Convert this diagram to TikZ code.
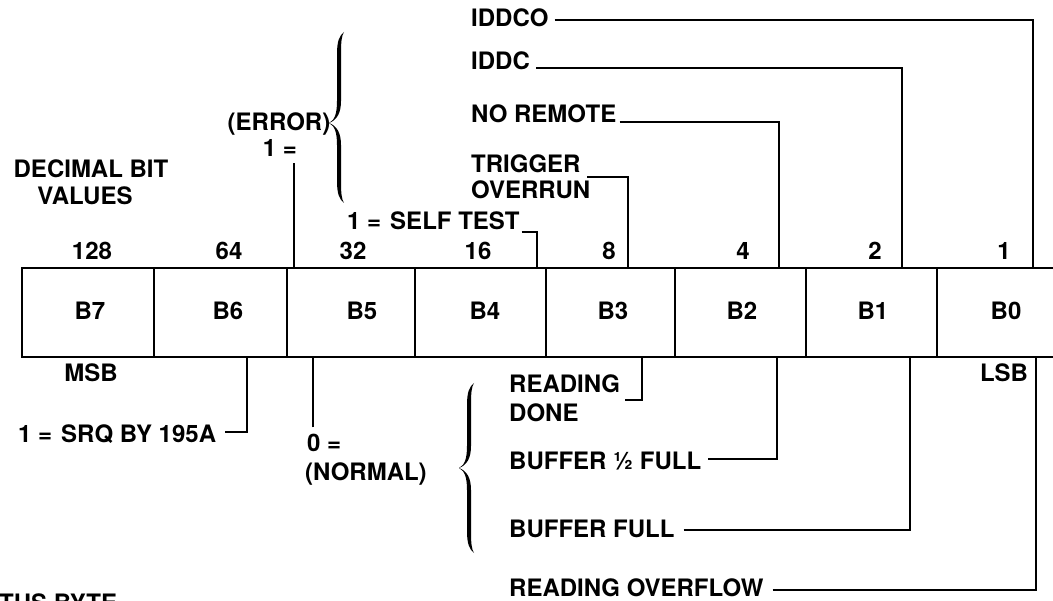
\documentclass[tikz,border=0pt]{standalone}
\usepackage{fontspec}
\setmainfont{TeX Gyre Heros}
\newcommand\lblfont{\fontsize{24}{27}\selectfont\bfseries}
\begin{document}
\begin{tikzpicture}[x=1pt,y=-1pt,
  lbl/.style={inner sep=0pt,font=\lblfont},
  boxline/.style={line width=2.6pt},
  conn/.style={line width=2.3pt},
  bracefill/.style={fill=black}]
\path[use as bounding box] (0,0) rectangle (1053,601);
\clip (0,0) rectangle (1053,601);

% ---- the byte box
\draw[boxline] (22,268) rectangle (1070,357);
\foreach \x in {154,287,415,546,675,806,937} \draw[boxline] (\x,268) -- (\x,357);

% attachment points on the box
\coordinate (t0) at (1033,268);
\coordinate (t1) at (902,268);
\coordinate (t2) at (779,268);
\coordinate (t3) at (628,268);
\coordinate (t4) at (537,268);
\coordinate (t5) at (294,268);
\coordinate (u0) at (1036,357);
\coordinate (u1) at (910,357);
\coordinate (u2) at (777,357);
\coordinate (u3) at (642,357);
\coordinate (u5) at (313,357);
\coordinate (u6) at (247,357);

% ---- bit labels
\node[lbl,anchor=base] (b7) at (90,320) {B7};
\node[lbl,anchor=base] (b6) at (228,320) {B6};
\node[lbl,anchor=base] (b5) at (362,320) {B5};
\node[lbl,anchor=base] (b4) at (485,320) {B4};
\node[lbl,anchor=base] (b3) at (613,320) {B3};
\node[lbl,anchor=base] (b2) at (742,320) {B2};
\node[lbl,anchor=base] (b1) at (873,320) {B1};
\node[lbl,anchor=base] (b0) at (1006,320) {B0};

% ---- decimal values
\node[lbl,anchor=base] (v7) at (92,260) {128};
\node[lbl,anchor=base] (v6) at (229,260) {64};
\node[lbl,anchor=base] (v5) at (353,260) {32};
\node[lbl,anchor=base] (v4) at (478,260) {16};
\node[lbl,anchor=base] (v3) at (609,260) {8};
\node[lbl,anchor=base] (v2) at (743,260) {4};
\node[lbl,anchor=base] (v1) at (875,260) {2};
\node[lbl,anchor=base] (v0) at (1004,260) {1};

\node[lbl,anchor=base] (dec1) at (91,178) {DECIMAL BIT};
\node[lbl,anchor=base] (dec2) at (85,205) {VALUES};
\node[lbl,anchor=base] (msb) at (91,382) {MSB};
\node[lbl,anchor=base] (lsb) at (1004,382) {LSB};

% ---- upper labels
\node[lbl,anchor=base west] (iddco) at (471,27) {IDDCO};
\node[lbl,anchor=base west] (iddc) at (471,70) {IDDC};
\node[lbl,anchor=base west] (norem) at (471,123) {NO REMOTE};
\node[lbl,anchor=base west] (trig1) at (471,173) {TRIGGER};
\node[lbl,anchor=base west] (trig2) at (471,199) {OVERRUN};
\node[lbl,anchor=base west] (self) at (347,230) {1 =\hspace{9pt}SELF TEST};
\node[lbl,anchor=base] (err1) at (279,131) {(ERROR)};
\node[lbl,anchor=base] (err2) at (280,157) {1 =};

\draw[conn] ([xshift=6pt,yshift=7pt]iddco.base east) -| (t0);
\draw[conn] ([xshift=6pt,yshift=2pt]iddc.base east) -| (t1);
\draw[conn] ([xshift=3pt,yshift=1pt]norem.base east) -| (t2);
\draw[conn] ([xshift=-3pt,yshift=22pt]trig2.base east) -| (t3);
\draw[conn] ([xshift=2pt,yshift=-2pt]self.base east) -| (t4);
\draw[conn] (err2.south -| t5) ++(0,6) -- (t5);

% ---- lower labels
\node[lbl,anchor=base west] (srq) at (18,443) {1 =\hspace{9pt}SRQ BY 195A};
\node[lbl,anchor=base west] (norm1) at (307,452) {0 =};
\node[lbl,anchor=base west] (norm2) at (305,481) {(NORMAL)};
\node[lbl,anchor=base west] (rd1) at (509,393) {READING};
\node[lbl,anchor=base west] (rd2) at (509,422) {DONE};
\node[lbl,anchor=base west] (bh) at (509,470) {BUFFER ½ FULL};
\node[lbl,anchor=base west] (bf) at (509,537) {BUFFER FULL};
\node[lbl,anchor=base west] (ro) at (509,596) {READING OVERFLOW};
\node[lbl,anchor=base west] (sb) at (-45,611) {STATUS BYTE};

\draw[conn] ([xshift=9pt,yshift=11pt]srq.base east) -| (u6);
\draw[conn] (norm1.north -| u5) ++(0,-7) -- (u5);
\draw[conn] ([xshift=5pt,yshift=-7pt]rd1.base east) -| (u3);
\draw[conn] ([xshift=7pt,yshift=11pt]bh.base east) -| (u2);
\draw[conn] ([xshift=9pt,yshift=7pt]bf.base east) -| (u1);
\draw[conn] ([xshift=9pt,yshift=6pt]ro.base east) -| (u0);

% ---- braces
\begin{scope}[shift={(329,123)}]
  \fill[bracefill] (0,0) .. controls (6,-3) and (8,-10) .. (8,-22) -- (8,-69)
    .. controls (8,-81) and (10,-87) .. (15,-91)
    .. controls (12.5,-87) and (12,-81) .. (12,-69) -- (12,-22)
    .. controls (12,-10) and (8,-3) .. (0,0) -- cycle;
  \fill[bracefill] (0,0) .. controls (6,3) and (8,10) .. (8,22) -- (8,58)
    .. controls (8,70) and (10,76) .. (15,80)
    .. controls (12.5,76) and (12,70) .. (12,58) -- (12,22)
    .. controls (12,10) and (8,3) .. (0,0) -- cycle;
\end{scope}
\begin{scope}[shift={(459,468)}]
  \fill[bracefill] (0,0) .. controls (6,-3) and (8,-10) .. (8,-22) -- (8,-63)
    .. controls (8,-75) and (10,-81) .. (15,-85)
    .. controls (12.5,-81) and (12,-75) .. (12,-63) -- (12,-22)
    .. controls (12,-10) and (8,-3) .. (0,0) -- cycle;
  \fill[bracefill] (0,0) .. controls (6,3) and (8,10) .. (8,22) -- (8,63)
    .. controls (8,75) and (10,81) .. (15,85)
    .. controls (12.5,81) and (12,75) .. (12,63) -- (12,22)
    .. controls (12,10) and (8,3) .. (0,0) -- cycle;
\end{scope}
\end{tikzpicture}
\end{document}
